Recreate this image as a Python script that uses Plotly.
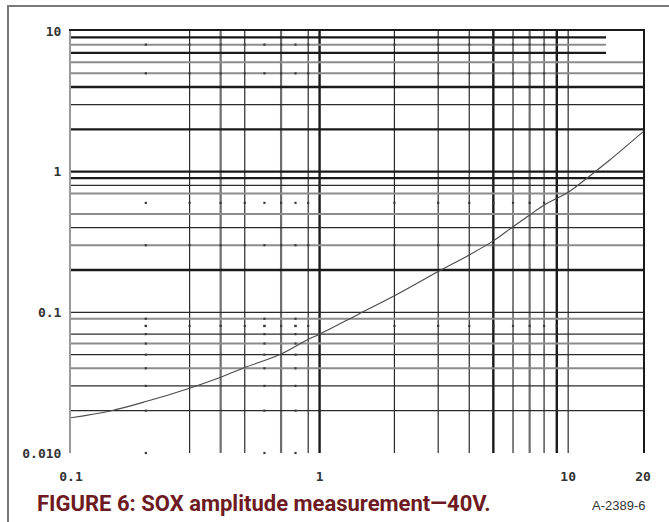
import math
import plotly.graph_objects as go

# SOX amplitude curve (log-log)
x_vals = [0.1, 0.144, 0.2, 0.3, 0.4, 0.5, 0.7, 0.9, 1.0, 1.44, 2, 3, 4, 5, 6, 7, 8, 9, 10, 12.6, 14.7, 20]
y_vals = [0.0178, 0.0199, 0.0232, 0.0289, 0.0346, 0.0405, 0.0506, 0.0644, 0.0699, 0.0974, 0.131,
          0.195, 0.256, 0.322, 0.406, 0.492, 0.58, 0.647, 0.714, 0.974, 1.21, 1.92]

x_ticks = [0.1, 1, 10, 20]
x_tick_text = ["0.1", "1", "10", "20"]
y_ticks = [0.01, 0.1, 1, 10]
y_tick_text = ["0.010", "0.1", "1", "10"]

# grid line positions grouped by pen
v_light = [0.3, 0.5, 0.9, 2, 3, 4, 6, 8, 10]
v_grey = [0.4, 0.7, 7]
v_heavy = [1, 5, 9]
h_light = [3, 0.8, 0.4, 0.1, 0.07, 0.05, 0.03, 0.02]
h_grey = [6, 5, 0.7, 0.5, 0.3, 0.09, 0.06, 0.04]
h_heavy = [4, 2, 1, 0.9, 0.2]
h_short_heavy = [9, 7]
h_short_grey = [8]
h_short_end = 14.2

minor_x = [0.2, 0.3, 0.4, 0.5, 0.6, 0.7, 0.8, 0.9, 2, 3, 4, 5, 6, 7, 8, 9]
low_decade_y = [0.01, 0.02, 0.03, 0.04, 0.05, 0.06, 0.07, 0.08, 0.09]
dot_cols = [0.2, 0.6, 0.8]
dot_rows = [8, 5, 0.6, 0.3, 0.08]

X_MIN, X_MAX = 0.1, 20
Y_MIN, Y_MAX = 0.01, 10


def vlines(xs):
    px, py = [], []
    for v in xs:
        px += [v, v, None]
        py += [Y_MIN, Y_MAX, None]
    return px, py


def hlines(ys, x_end=X_MAX):
    px, py = [], []
    for v in ys:
        px += [X_MIN, x_end, None]
        py += [v, v, None]
    return px, py


fig = go.Figure()

pens = [
    (vlines(v_light), "#2a2a2a", 1.2),
    (vlines(v_grey), "#6e6e6e", 2.2),
    (vlines(v_heavy), "#1a1a1a", 2.4),
    (hlines(h_light), "#2a2a2a", 1.3),
    (hlines(h_grey), "#8c8c8c", 2.0),
    (hlines(h_heavy), "#1a1a1a", 2.3),
    (hlines(h_short_heavy, h_short_end), "#1a1a1a", 2.3),
    (hlines(h_short_grey, h_short_end), "#8c8c8c", 2.0),
]
for (px, py), col, w in pens:
    fig.add_trace(go.Scatter(x=px, y=py, mode="lines", line=dict(color=col, width=w),
                             hoverinfo="skip", showlegend=False))

# dotted grid intersections
dx, dy = [], []
for c in dot_cols:
    for r in low_decade_y:
        dx.append(c)
        dy.append(r)
for r in dot_rows:
    for c in minor_x:
        dx.append(c)
        dy.append(r)
fig.add_trace(go.Scatter(x=dx, y=dy, mode="markers",
                         marker=dict(symbol="square", size=2.2, color="#3a3a3a"),
                         hoverinfo="skip", showlegend=False, cliponaxis=False))

# measured curve
fig.add_trace(go.Scatter(x=x_vals, y=y_vals, mode="lines",
                         line=dict(color="#4a4a4a", width=1.1, shape="spline"),
                         showlegend=False))

# overlay axes used only for the top and right frame lines
fig.add_trace(go.Scatter(x=[X_MIN], y=[Y_MIN], xaxis="x2", yaxis="y2", mode="markers",
                         marker=dict(opacity=0), hoverinfo="skip", showlegend=False))

tick_font = dict(family="DejaVu Sans Mono", size=13, color="#333333", weight="bold")

x_range = [math.log10(X_MIN), math.log10(X_MAX)]
y_range = [math.log10(Y_MIN), math.log10(Y_MAX)]

L, R, T, B = 71, 26, 31, 69
W, H = 669, 522
pw, ph = W - L - R, H - T - B


def px_to_paper(x, y):
    return (x - L) / pw, (H - B - y) / ph


fig.update_layout(
    width=W, height=H,
    margin=dict(l=L, r=R, t=T, b=B),
    paper_bgcolor="white", plot_bgcolor="white",
    xaxis=dict(type="log", range=x_range, tickvals=x_ticks, ticktext=x_tick_text,
               showgrid=False, zeroline=False, showline=False, ticks="",
               tickfont=tick_font, ticklabelstandoff=14),
    yaxis=dict(type="log", range=y_range, tickvals=y_ticks, ticktext=y_tick_text,
               showgrid=False, zeroline=False, showline=True, linecolor="#9a9a9a",
               linewidth=2, ticks="", tickfont=tick_font, ticklabelstandoff=5),
    xaxis2=dict(type="log", range=x_range, overlaying="x", side="top", showline=True,
                linecolor="#1a1a1a", linewidth=1.6, showticklabels=False, ticks="",
                showgrid=False, zeroline=False),
    yaxis2=dict(type="log", range=y_range, overlaying="y", side="right", showline=True,
                linecolor="#1a1a1a", linewidth=2.4, showticklabels=False, ticks="",
                showgrid=False, zeroline=False),
    font=dict(family="Liberation Sans"),
)

cx, cy = px_to_paper(35, 503)
fig.add_annotation(xref="paper", yref="paper", x=cx, y=cy, xanchor="left", yanchor="middle",
                   text="FIGURE 6: SOX amplitude measurement\u201440V.", showarrow=False,
                   font=dict(family="Roboto", size=22, color="#6d1a22", weight="bold"))
ax_, ay_ = px_to_paper(647, 505)
fig.add_annotation(xref="paper", yref="paper", x=ax_, y=ay_, xanchor="right", yanchor="middle",
                   text="A-2389-6", showarrow=False,
                   font=dict(family="Liberation Sans", size=13, color="#333333"))

# outer frame (top and left edges visible)
fx0, fy0 = px_to_paper(8, 6)
fx1, fy1 = px_to_paper(W + 20, H + 20)
fig.add_shape(type="rect", xref="paper", yref="paper", x0=fx0, y0=fy1, x1=fx1, y1=fy0,
              line=dict(color="#7a7a7a", width=2), layer="below")

fig.write_html("out.html")
